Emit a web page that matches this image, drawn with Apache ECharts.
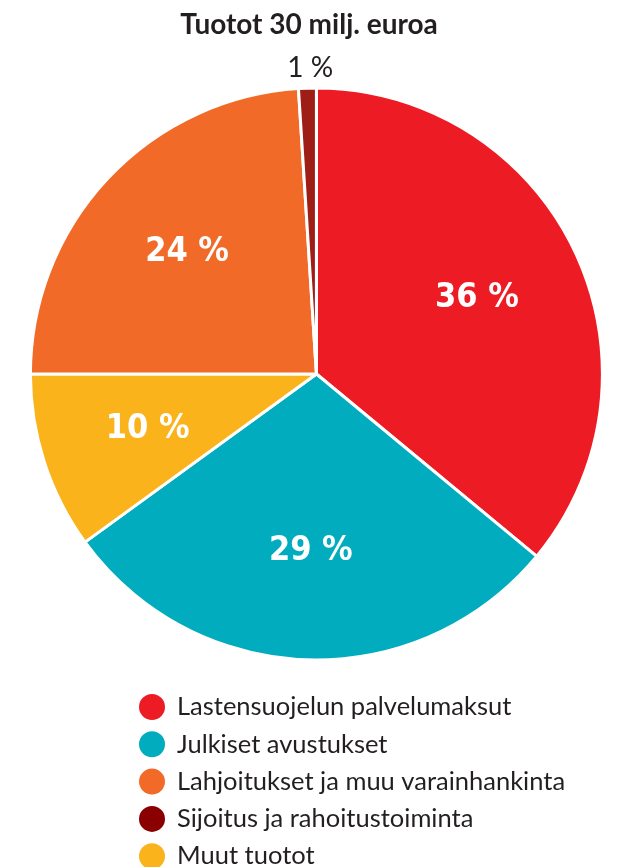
<!DOCTYPE html>
<html><head><meta charset="utf-8">
<script src="https://cdn.jsdelivr.net/npm/echarts@6/dist/echarts.min.js"></script>
<style>html,body{margin:0;padding:0;background:#fff}#c{width:618px;height:867px}</style>
</head><body><div id="c"></div>
<script>
const titleText = 'Tuotot 30 milj. euroa';
const categories = ['Lastensuojelun palvelumaksut','Julkiset avustukset','Muut tuotot','Lahjoitukset ja muu varainhankinta','Sijoitus ja rahoitustoiminta'];
const values = [36, 29, 10, 24, 1];
const colors = ['#ED1C24','#00ACBD','#FAB31B','#F26A27','#9E1E17'];
const legendOrder = ['Lastensuojelun palvelumaksut','Julkiset avustukset','Lahjoitukset ja muu varainhankinta','Sijoitus ja rahoitustoiminta','Muut tuotot'];
const legendColors = {'Sijoitus ja rahoitustoiminta':'#8A0000'};

const center = ['51.2%', 374];
const R = 286;

const mainData = categories.map((n,i)=>({
  name:n, value:values[i], itemStyle:{color:colors[i]},
  label: values[i] < 5 ? {show:true} : {show:false}
}));
const labelData = categories.map((n,i)=>({
  name:n, value:values[i],
  label: values[i] < 5 ? {show:false} : {show:true}
}));

const chart = echarts.init(document.getElementById('c'));
chart.setOption({
  animation:false,
  title:{text:titleText,left:'center',top:6,textStyle:{fontFamily:'Lato',fontWeight:'bold',fontSize:28,color:'#231F20'}},
  legend:{
    orient:'vertical', left:132, top:687, height:220, itemWidth:28, itemHeight:28, itemGap:7.3, icon:'circle',
    data: legendOrder.map(n=>({name:n, itemStyle: legendColors[n]?{color:legendColors[n]}:undefined})),
    textStyle:{fontFamily:'Lato',fontSize:25.5,color:'#231F20',padding:[0,0,0,6]}
  },
  series:[
    {
      type:'pie', center:center, radius:[0,R], startAngle:90, clockwise:true, silent:true,
      itemStyle:{borderColor:'#fff',borderWidth:3},
      label:{position:'outside',formatter:'{c} %',fontFamily:'Lato',fontSize:28,color:'#231F20'},
      labelLine:{show:false,length:6,length2:0},
      labelLayout:{align:'center',verticalAlign:'bottom',dx:8},
      data: mainData
    },
    {
      type:'pie', center:center, radius:[0,R*1.22], startAngle:90, clockwise:true, silent:true,
      itemStyle:{color:'rgba(0,0,0,0)',borderWidth:0},
      label:{position:'inside',formatter:'{c} %',fontFamily:'DejaVu Sans Condensed',fontWeight:'bold',fontSize:34,color:'#fff'},
      labelLine:{show:false},
      data: labelData
    }
  ]
});
</script></body></html>
